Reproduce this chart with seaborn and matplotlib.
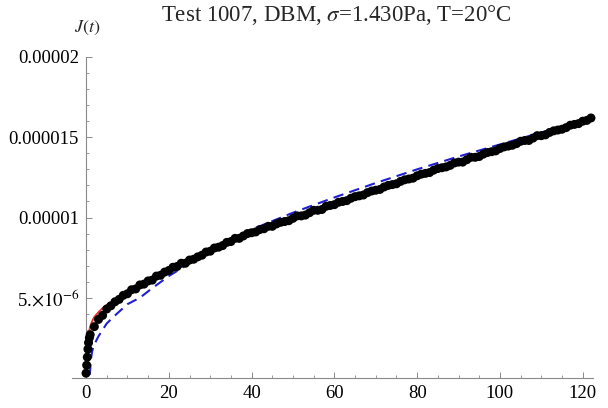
import numpy as np
import pandas as pd
import matplotlib
matplotlib.use("Agg")
import matplotlib.pyplot as plt
import matplotlib.ticker as mticker
import seaborn as sns

# measured creep compliance J(t), units of 1e-6 1/Pa
t_early = [0.0, 0.15, 0.3, 0.45, 0.6, 0.8]
j_early = [0.3, 0.8, 1.3, 1.8, 2.2, 2.5]

t_main = list(range(1, 123))
j_main = [
    2.7, 3.2, 3.65, 3.9, 4.3, 4.5, 4.75, 4.9, 5.15, 5.25,
    5.5, 5.55, 5.8, 5.85, 6.05, 6.1, 6.35, 6.4, 6.6, 6.7,
    6.9, 6.95, 7.15, 7.15, 7.35, 7.4, 7.55, 7.65, 7.85, 7.9,
    8.1, 8.15, 8.25, 8.45, 8.5, 8.7, 8.7, 8.85, 9.0, 9.05,
    9.1, 9.25, 9.3, 9.45, 9.45, 9.6, 9.7, 9.75, 9.8, 9.95,
    10.1, 10.1, 10.15, 10.3, 10.45, 10.45, 10.5, 10.7, 10.75, 10.8,
    10.95, 11.0, 11.05, 11.2, 11.3, 11.35, 11.4, 11.55, 11.65, 11.7,
    11.75, 11.9, 12.0, 12.05, 12.1, 12.25, 12.35, 12.4, 12.45, 12.6,
    12.7, 12.75, 12.8, 12.95, 13.05, 13.1, 13.15, 13.25, 13.4, 13.45,
    13.45, 13.6, 13.75, 13.75, 13.8, 13.95, 14.05, 14.1, 14.15, 14.3,
    14.4, 14.45, 14.5, 14.6, 14.75, 14.8, 14.8, 14.95, 15.1, 15.1,
    15.15, 15.3, 15.4, 15.45, 15.5, 15.6, 15.75, 15.8, 15.85, 16.0, 16.05, 16.2,
]

# fitted model curves
t_red = [0, 0.2, 0.5, 1, 1.5, 2, 3, 4, 5, 7, 10, 15, 20, 30, 40, 50, 60, 70, 80, 90, 100, 110, 122]
j_red = [0.5, 1.6, 2.6, 3.2, 3.55, 3.8, 4.1, 4.35, 4.55, 4.9, 5.35, 6.05, 6.7, 7.9, 9.0,
         9.95, 10.85, 11.7, 12.55, 13.4, 14.25, 15.1, 16.1]

t_blue = [0.9, 1.2, 1.5, 2, 3, 4, 5, 7, 10, 13, 16, 20, 25, 30, 40, 50, 60, 70, 80, 90, 100, 110, 122]
j_blue = [0.2, 1.2, 1.7, 2.1, 2.6, 3.0, 3.4, 3.9, 4.6, 5.0, 5.6, 6.35, 7.15, 7.95, 9.25,
          10.3, 11.25, 12.15, 13.0, 13.8, 14.55, 15.3, 16.15]

data = pd.DataFrame({"t": t_early + t_main, "J": np.array(j_early + j_main) * 1e-6})
red = pd.DataFrame({"t": t_red, "J": np.array(j_red) * 1e-6})
blue = pd.DataFrame({"t": t_blue, "J": np.array(j_blue) * 1e-6})

sns.set_style("ticks")
plt.rcParams["font.family"] = ["Liberation Serif", "DejaVu Serif"]
plt.rcParams["mathtext.fontset"] = "stix"

fig = plt.figure(figsize=(6.08, 4.08), dpi=100)
ax = fig.add_axes([0.1184, 0.0735, 0.857, 0.7868])

sns.lineplot(data=red, x="t", y="J", ax=ax, color="#e8322c", lw=1.4, zorder=2)
sns.lineplot(data=blue, x="t", y="J", ax=ax, color="#2020d0", lw=1.5,
             dashes=False, zorder=2).lines[-1].set_dashes([5, 3])
sns.scatterplot(data=data, x="t", y="J", ax=ax, color="black", s=42,
                edgecolor="none", zorder=3, clip_on=False)

ax.set_xlim(-3.4, 122.5)
ax.set_ylim(0, 2e-5)
ax.spines["left"].set_position(("data", 0))
ax.spines["top"].set_visible(False)
ax.spines["right"].set_visible(False)
for sp in ("left", "bottom"):
    ax.spines[sp].set_color("#8a8a8a")
    ax.spines[sp].set_linewidth(0.8)

ax.set_xticks([0, 20, 40, 60, 80, 100, 120])
ax.xaxis.set_minor_locator(mticker.MultipleLocator(5))
ax.set_yticks([5e-6, 1e-5, 1.5e-5, 2e-5])
ax.set_yticklabels([r"5.$\times10^{-6}$", "0.00001", "0.000015", "0.00002"])
ax.yaxis.set_minor_locator(mticker.MultipleLocator(1e-6))
ax.tick_params(which="major", direction="in", length=4, width=0.7,
               color="#8a8a8a", labelsize=13.5, labelcolor="black", pad=5)
ax.tick_params(which="minor", direction="in", length=2.5, width=0.6, color="#8a8a8a")
ax.set_xlabel("")
ax.set_ylabel("")

fig.text(87 / 608, 1 - 28 / 408, r"$J(t)$", ha="center", va="center", fontsize=13)
fig.text(336 / 608, 1 - 15 / 408, r"Test 1007, DBM, $\sigma$=1.430Pa, T=20°C",
         ha="center", va="center", fontsize=16.5)

fig.savefig("out.png", dpi=100)
